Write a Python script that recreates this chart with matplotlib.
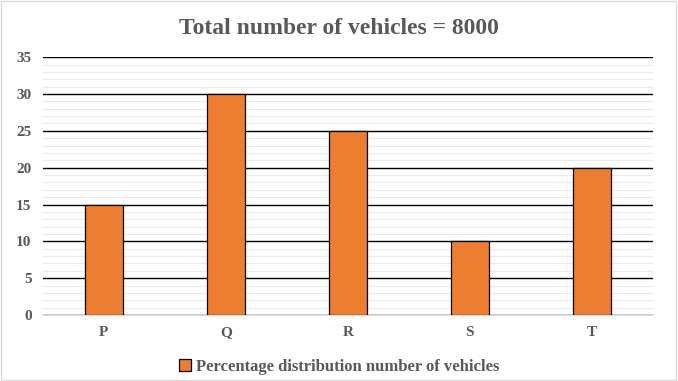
import matplotlib.pyplot as plt
from matplotlib.ticker import MultipleLocator

# data
categories = ['P', 'Q', 'R', 'S', 'T']
values = [15, 30, 25, 10, 20]
series_name = 'Percentage distribution number of vehicles'

plt.rcParams['font.family'] = ['Liberation Serif', 'DejaVu Serif']

fig = plt.figure(figsize=(6.78, 3.81), dpi=100)
ax = fig.add_axes([0.063, 0.173, 0.9, 0.677])

x = range(len(categories))
ax.bar(x, values, width=0.31, color='#ed7d31', edgecolor='black', linewidth=0.9,
       label=series_name, zorder=3)

ax.set_xlim(-0.5, len(categories) - 0.5)
ax.set_ylim(0, 35)
ax.yaxis.set_major_locator(MultipleLocator(5))
ax.yaxis.set_minor_locator(MultipleLocator(1))
ax.grid(axis='y', which='major', color='black', linewidth=1.0, zorder=1)
ax.grid(axis='y', which='minor', color='#eaeaea', linewidth=0.8, zorder=0)
ax.set_xticks(list(x))
ax.set_xticklabels(categories)

for s in ['top', 'right', 'left']:
    ax.spines[s].set_visible(False)
ax.spines['bottom'].set_color('#d9d9d9')
ax.tick_params(axis='both', which='both', length=0, colors='#595959', labelsize=11, pad=8)
for lab in ax.get_xticklabels() + ax.get_yticklabels():
    lab.set_fontweight('bold')

fig.text(0.5, 0.925, 'Total number of vehicles = 8000', ha='center', va='center',
         fontsize=17, fontweight='bold', color='#595959')

leg = fig.legend(loc='center', bbox_to_anchor=(0.5, 0.037), frameon=False,
                 handlelength=0.7, handleheight=0.7, handletextpad=0.3,
                 prop={'weight': 'bold', 'size': 12})
for t in leg.get_texts():
    t.set_color('#595959')

# chart frame
fig.patches.append(plt.Rectangle((0.002, 0.003), 0.995, 0.994, transform=fig.transFigure,
                                 fill=False, edgecolor='#d9d9d9', linewidth=1))

fig.savefig('out.png', dpi=100)
